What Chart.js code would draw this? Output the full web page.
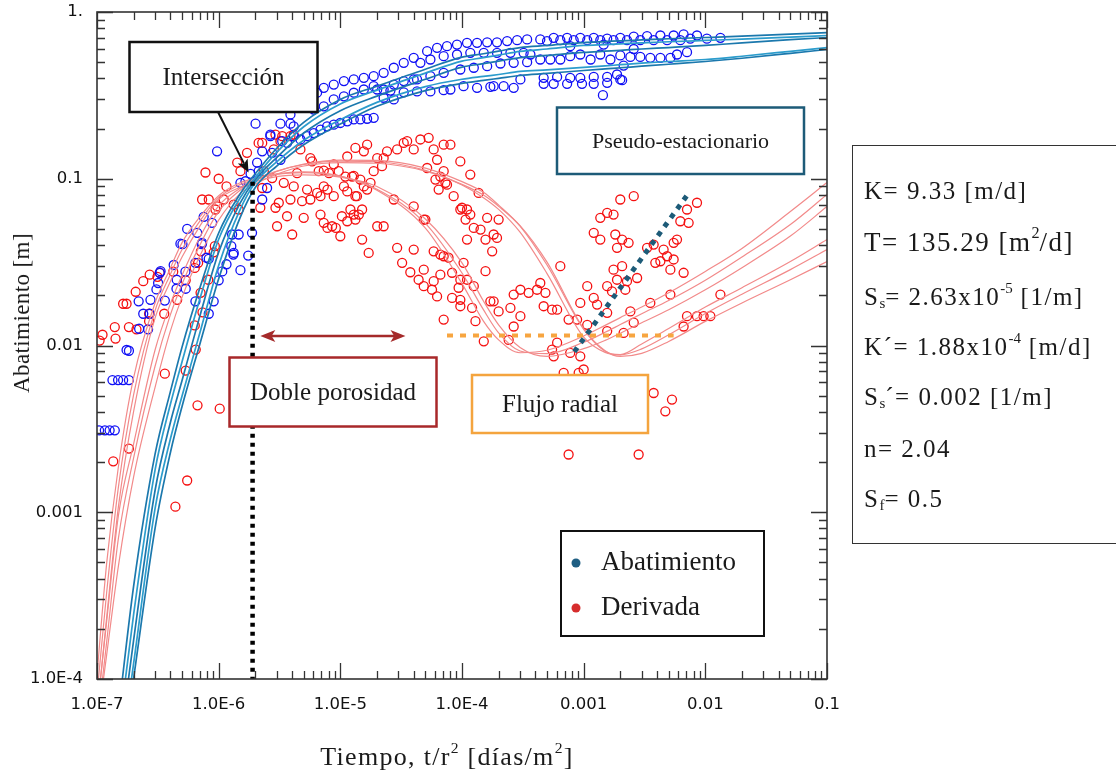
<!DOCTYPE html>
<html lang="es">
<head>
<meta charset="utf-8">
<title>Abatimiento y derivada</title>
<script src="https://cdn.jsdelivr.net/npm/chart.js@4.4.1/dist/chart.umd.min.js"></script>
<style>
  html, body { margin: 0; padding: 0; background: #fff; overflow: hidden; }
  #wrap { position: relative; width: 1116px; height: 775px; }
  #grafico { position: absolute; left: 0; top: 0; }
  .titulo { position: absolute; font-family: "Liberation Serif", serif; color: #1a1a1a; white-space: nowrap; }
  #tituloY { left: 22px; top: 313px; font-size: 23px; letter-spacing: 0.4px; transform: translate(-50%, -50%) rotate(-90deg); }
  #tituloX { left: 447px; top: 757px; font-size: 26px; letter-spacing: 1.3px; transform: translate(-50%, -50%); }
  .titulo sup { font-size: 0.6em; vertical-align: 0.75em; line-height: 0; }
  #parametros { position: absolute; left: 852px; top: 145px; width: 300px; height: 399px; border: 1.5px solid #333; box-sizing: border-box;
    font-family: "Liberation Serif", serif; font-size: 25px; letter-spacing: 1.5px; color: #1a1a1a; }
  #parametros div { position: absolute; left: 11px; white-space: nowrap; line-height: 28px; }
  #parametros sup, #parametros sub { font-size: 0.6em; line-height: 0; letter-spacing: 0; }
  #parametros sup { vertical-align: 0.8em; }
  #parametros sub { vertical-align: -0.2em; }
</style>
</head>
<body>
<div id="wrap">
  <canvas id="grafico" width="1116" height="775"></canvas>
  <div class="titulo" id="tituloY">Abatimiento [m]</div>
  <div class="titulo" id="tituloX">Tiempo, t/r<sup>2</sup> [días/m<sup>2</sup>]</div>
  <div id="parametros">
    <div style="top:31px">K= 9.33 [m/d]</div>
    <div style="top:82px;font-size:27px">T= 135.29 [m<sup>2</sup>/d]</div>
    <div style="top:137px">S<sub>s</sub>= 2.63x10<sup>-5</sup> [1/m]</div>
    <div style="top:187px">K´= 1.88x10<sup>-4</sup> [m/d]</div>
    <div style="top:237px">S<sub>s</sub>´= 0.002 [1/m]</div>
    <div style="top:289px">n= 2.04</div>
    <div style="top:339px">S<sub>f</sub>= 0.5</div>
  </div>
</div>
<script>
// ejes
const xTickVals = [1e-7, 1e-6, 1e-5, 1e-4, 1e-3, 1e-2, 1e-1];
const xTickLabels = ['1.0E-7', '1.0E-6', '1.0E-5', '1.0E-4', '0.001', '0.01', '0.1'];
const yTickVals = [1e-4, 1e-3, 1e-2, 1e-1, 1];
const yTickLabels = ['1.0E-4', '0.001', '0.01', '0.1', '1.'];

// tiempos comunes de las curvas teoricas
const curveX = [1e-7, 1.2e-7, 1.5e-7, 2e-7, 3e-7, 4e-7, 5e-7, 7e-7, 1e-6, 1.5e-6, 2e-6, 3e-6, 5e-6, 1e-5, 2e-5,
  5e-5, 1e-4, 1.5e-4, 2e-4, 3e-4, 5e-4, 1e-3, 1.5e-3, 2e-3, 3e-3, 5e-3, 1e-2, 2e-2, 5e-2, 0.1];

// curvas teoricas de abatimiento
const abatModelo1 = [5.30e-6, 1.60e-5, 6.26e-5, 3.61e-4, 2.23e-3, 5.25e-3, 9.78e-3, 0.0221, 0.0473, 0.0811, 0.1072, 0.1524, 0.218, 0.299, 0.359,
  0.454, 0.536, 0.562, 0.583, 0.612, 0.630, 0.656, 0.665, 0.672, 0.680, 0.691, 0.703, 0.716, 0.737, 0.753];
const abatModelo2 = [4.39e-6, 1.26e-5, 4.61e-5, 2.44e-4, 1.79e-3, 4.41e-3, 8.00e-3, 0.0190, 0.0434, 0.0766, 0.1019, 0.144, 0.205, 0.281, 0.340,
  0.430, 0.507, 0.532, 0.551, 0.580, 0.600, 0.630, 0.638, 0.644, 0.653, 0.663, 0.675, 0.687, 0.707, 0.723];
const abatModelo3 = [3.70e-6, 1.01e-5, 3.48e-5, 1.71e-4, 1.35e-3, 3.43e-3, 6.16e-3, 0.0150, 0.0362, 0.0715, 0.0986, 0.134, 0.188, 0.256, 0.313,
  0.395, 0.467, 0.490, 0.508, 0.533, 0.549, 0.572, 0.582, 0.589, 0.600, 0.612, 0.630, 0.653, 0.682, 0.703];
const abatModelo4 = [3.16e-6, 8.26e-6, 2.70e-5, 1.24e-4, 1.05e-3, 2.73e-3, 4.98e-3, 0.01187, 0.0302, 0.0653, 0.0948, 0.1263, 0.170, 0.226, 0.287,
  0.357, 0.395, 0.411, 0.422, 0.440, 0.450, 0.465, 0.475, 0.483, 0.494, 0.505, 0.519, 0.543, 0.581, 0.612];
const abatModelo5 = [3.01e-6, 7.56e-6, 2.35e-5, 1.01e-4, 8.01e-4, 2.26e-3, 4.31e-3, 0.01018, 0.0251, 0.0585, 0.0887, 0.1192, 0.160, 0.213, 0.272,
  0.338, 0.373, 0.389, 0.400, 0.416, 0.428, 0.446, 0.456, 0.463, 0.473, 0.486, 0.505, 0.528, 0.565, 0.596];

// curvas teoricas de la derivada
const derivModelo1 = [1.06e-4, 4.92e-4, 1.88e-3, 6.42e-3, 0.0180, 0.0290, 0.0414, 0.0590, 0.0791, 0.0946, 0.1003, 0.1069, 0.1101, 0.1036, 0.0852,
  0.0506, 0.0235, 0.0140, 0.0108, 0.00905, 0.00936, 0.0114, 0.0132, 0.0147, 0.0170, 0.0207, 0.0278, 0.0382, 0.0636, 0.0949];
const derivModelo2 = [8.05e-5, 3.29e-4, 1.42e-3, 5.08e-3, 0.0162, 0.0266, 0.0376, 0.0557, 0.0770, 0.0922, 0.0990, 0.1063, 0.1088, 0.1036, 0.0865,
  0.0540, 0.0272, 0.0164, 0.0119, 0.00927, 0.00893, 0.01045, 0.0120, 0.01335, 0.0155, 0.0186, 0.0246, 0.0339, 0.0531, 0.0804];
const derivModelo3 = [6.19e-5, 2.33e-4, 1.08e-3, 4.03e-3, 0.0146, 0.0241, 0.0339, 0.0520, 0.0751, 0.0889, 0.0963, 0.1031, 0.1054, 0.1022, 0.0898,
  0.0574, 0.0313, 0.0185, 0.0133, 0.00974, 0.00860, 0.00957, 0.01073, 0.01185, 0.0137, 0.0164, 0.0216, 0.0293, 0.0453, 0.0681];
const derivModelo4 = [6.37e-5, 2.21e-4, 9.57e-4, 2.57e-3, 0.00940, 0.0177, 0.0264, 0.0446, 0.0688, 0.0877, 0.0988, 0.1112, 0.1218, 0.1277, 0.1265,
  0.1123, 0.0917, 0.0770, 0.0655, 0.0478, 0.0270, 0.01123, 0.00910, 0.00882, 0.01022, 0.01263, 0.0170, 0.0222, 0.0319, 0.0432];
const derivModelo5 = [5.13e-5, 1.66e-4, 6.99e-4, 2.12e-3, 7.51e-3, 0.0152, 0.0234, 0.0400, 0.0637, 0.0854, 0.0973, 0.1105, 0.1225, 0.1293, 0.1288,
  0.1159, 0.0961, 0.0829, 0.0695, 0.0520, 0.0304, 0.01251, 0.00925, 0.00879, 0.00954, 0.01159, 0.01554, 0.0203, 0.0285, 0.0376];
const derivModelo6 = [5.10e-5, 1.39e-4, 4.77e-4, 1.63e-3, 5.61e-3, 0.01215, 0.0195, 0.0344, 0.0565, 0.0815, 0.0931, 0.1064, 0.1192, 0.1251, 0.1239,
  0.1112, 0.0925, 0.0798, 0.0683, 0.0523, 0.0316, 0.01261, 0.00931, 0.00860, 0.00897, 0.01058, 0.01395, 0.0180, 0.0248, 0.0319];

// datos medidos: abatimiento [t/r2, m]
const abatimientoPts = [
  [1.04e-7, 0.0031], [1.16e-7, 0.0031], [1.27e-7, 0.0031], [1.40e-7, 0.0031],
  [1.34e-7, 0.0062], [1.49e-7, 0.0062], [1.64e-7, 0.0062], [1.83e-7, 0.0062],
  [1.75e-7, 0.0094], [1.83e-7, 0.0093], [2.63e-7, 0.0125], [2.22e-7, 0.0126], [2.40e-7, 0.0155], [2.71e-7, 0.0155],
  [2.20e-7, 0.0184], [2.75e-7, 0.0188], [3.61e-7, 0.0186], [3.08e-7, 0.0217], [3.28e-7, 0.0273], [3.18e-7, 0.0237],
  [4.50e-7, 0.0219], [5.36e-7, 0.0219], [4.27e-7, 0.0304], [4.52e-7, 0.0248], [5.33e-7, 0.0277], [5.04e-7, 0.0405],
  [6.44e-7, 0.0313], [7.26e-7, 0.0405], [7.94e-7, 0.0336], [9.10e-7, 0.0184], [8.29e-7, 0.0155], [1.0e-6, 0.0246],
  [1.07e-6, 0.0278], [1.16e-6, 0.0307], [1.32e-6, 0.0351], [1.51e-6, 0.0283], [1.75e-6, 0.0346], [1.27e-6, 0.0394],
  [9.7e-7, 0.146], [2.01e-6, 0.214], [3.22e-6, 0.214], [3.89e-6, 0.214], [2.66e-6, 0.184], [3.33e-6, 0.168],
  [2.28e-6, 0.146], [2.75e-6, 0.143], [3.22e-6, 0.130], [2.07e-6, 0.125], [1.83e-6, 0.107], [2.13e-6, 0.111],
  [1.66e-6, 0.0966], [1.51e-6, 0.0945], [2.50e-6, 0.088], [2.28e-6, 0.0751], [7.53e-7, 0.0591], [8.83e-7, 0.0544],
  [5.51e-7, 0.0500], [6.66e-7, 0.0474], [4.85e-7, 0.0408], [7.31e-7, 0.0413], [1.33e-6, 0.0359], [1.29e-6, 0.0463],
  [1.46e-6, 0.0463], [1.88e-6, 0.0474], [3.33e-7, 0.0279], [6.44e-7, 0.0184], [8.29e-7, 0.0331],
  [2.66e-6, 0.180], [3.65e-6, 0.164], [4.14e-6, 0.180], [4.70e-6, 0.172], [5.33e-6, 0.180], [6.05e-6, 0.188],
  [6.87e-6, 0.197], [7.79e-6, 0.206], [8.83e-6, 0.211], [1.0e-5, 0.216], [1.14e-5, 0.221], [1.29e-5, 0.227],
  [1.46e-5, 0.227], [1.66e-5, 0.229], [1.88e-5, 0.232],
  [3.89e-6, 0.243], [4.70e-6, 0.272], [5.67e-6, 0.299], [6.44e-6, 0.328], [7.31e-6, 0.351], [8.83e-6, 0.367],
  [1.07e-5, 0.385], [1.29e-5, 0.394], [1.56e-5, 0.403], [1.88e-5, 0.412], [2.27e-5, 0.432], [2.75e-5, 0.463],
  [3.32e-5, 0.496], [4.01e-5, 0.531],
  [6.05e-6, 0.260], [7.31e-6, 0.272], [8.83e-6, 0.299], [1.07e-5, 0.312], [1.29e-5, 0.328], [1.56e-5, 0.343],
  [1.88e-5, 0.359], [2.27e-5, 0.343], [2.75e-5, 0.367], [3.32e-5, 0.385], [4.01e-5, 0.394], [3.02e-6, 0.272], [4.14e-6, 0.206],
  [5.17e-5, 0.582], [6.24e-5, 0.610], [7.53e-5, 0.624], [9.10e-5, 0.638], [1.10e-4, 0.653], [1.33e-4, 0.653],
  [1.61e-4, 0.658], [1.94e-4, 0.658], [2.35e-4, 0.669], [2.84e-4, 0.678], [3.43e-4, 0.685],
  [4.55e-5, 0.496], [5.50e-5, 0.519], [7.07e-5, 0.543], [9.10e-5, 0.556], [1.17e-4, 0.569], [1.51e-4, 0.569],
  [1.94e-4, 0.569], [2.50e-4, 0.569], [3.21e-4, 0.569],
  [4.27e-5, 0.394], [5.50e-5, 0.412], [7.07e-5, 0.432], [9.69e-5, 0.452], [1.25e-4, 0.463], [1.61e-4, 0.473],
  [2.07e-4, 0.491], [2.66e-4, 0.496], [3.43e-4, 0.500],
  [2.01e-5, 0.343], [2.58e-5, 0.338], [3.32e-5, 0.330], [4.27e-5, 0.334], [5.50e-5, 0.334], [7.07e-5, 0.340],
  [1.03e-4, 0.359], [1.33e-4, 0.351], [1.82e-4, 0.359], [2.20e-4, 0.359], [2.66e-4, 0.351], [2.27e-5, 0.306],
  [2.75e-5, 0.299], [8.03e-5, 0.343], [1.71e-4, 0.356],
  [4.69e-4, 0.371], [5.67e-4, 0.371], [7.31e-4, 0.371], [9.69e-4, 0.371], [1.21e-3, 0.371], [1.56e-3, 0.376], [2.00e-3, 0.394],
  [4.40e-4, 0.685], [5.67e-4, 0.700], [7.31e-4, 0.700], [9.38e-4, 0.700], [1.21e-3, 0.700], [1.56e-3, 0.692],
  [2.00e-3, 0.700], [2.58e-3, 0.711], [3.32e-3, 0.717], [4.27e-3, 0.723], [5.49e-3, 0.723], [6.63e-3, 0.734],
  [8.54e-3, 0.723], [1.03e-2, 0.692], [1.33e-2, 0.700],
  [5.0e-4, 0.669], [6.43e-4, 0.678], [8.28e-4, 0.678], [1.07e-3, 0.678], [1.37e-3, 0.678], [1.76e-3, 0.678],
  [2.27e-3, 0.678], [2.92e-3, 0.678], [3.76e-3, 0.678], [4.85e-3, 0.678], [6.23e-3, 0.678], [7.52e-3, 0.692],
  [7.75e-4, 0.624], [1.46e-3, 0.638], [2.58e-3, 0.600],
  [3.65e-4, 0.556], [4.40e-4, 0.519], [5.32e-4, 0.519], [6.43e-4, 0.519], [7.75e-4, 0.543], [9.38e-4, 0.556],
  [1.14e-3, 0.519], [1.37e-3, 0.556], [1.66e-3, 0.519], [2.0e-3, 0.549], [2.42e-3, 0.538], [2.92e-3, 0.538],
  [3.53e-3, 0.531], [4.27e-3, 0.531], [5.16e-3, 0.531], [5.85e-3, 0.556], [7.07e-3, 0.574], [2.13e-3, 0.477],
  [3.02e-4, 0.394], [4.69e-4, 0.403], [6.05e-4, 0.408], [7.75e-4, 0.403], [9.38e-4, 0.403], [1.21e-3, 0.408],
  [1.56e-3, 0.408], [1.88e-3, 0.422], [2.07e-3, 0.390], [1.44e-3, 0.317]
];

// datos medidos: derivada [t/r2, m]
const derivadaPts = [
  [1.36e-7, 0.00202], [1.83e-7, 0.00241], [4.41e-7, 0.00108], [5.51e-7, 0.00155], [6.70e-7, 0.00438], [1.02e-6, 0.00418],
  [3.61e-7, 0.00678], [5.36e-7, 0.00707], [6.48e-7, 0.00945], [6.36e-7, 0.0132], [7.36e-7, 0.0158], [7.10e-7, 0.0207],
  [8.20e-7, 0.0248], [6.36e-7, 0.0292], [6.78e-7, 0.0313],
  [1.05e-7, 0.0107], [1.11e-7, 0.0116], [1.40e-7, 0.0129], [1.42e-7, 0.0110], [1.83e-7, 0.0129], [2.11e-7, 0.0125],
  [1.64e-7, 0.0178], [1.75e-7, 0.0178], [2.08e-7, 0.0210], [2.40e-7, 0.0243], [2.71e-7, 0.0266], [3.14e-7, 0.0258],
  [3.28e-7, 0.0273], [2.68e-7, 0.0155], [2.68e-7, 0.0140], [3.57e-7, 0.0155], [4.56e-7, 0.0188], [5.36e-7, 0.0246],
  [4.23e-7, 0.0277], [9.10e-7, 0.0362], [9.30e-7, 0.0394], [7.14e-7, 0.0367],
  [7.79e-7, 0.109], [1.0e-6, 0.100], [1.16e-6, 0.090], [1.42e-6, 0.125], [1.71e-6, 0.143], [1.51e-6, 0.111],
  [1.10e-6, 0.0751], [9.72e-7, 0.0683], [7.31e-7, 0.0751], [9.41e-7, 0.0654], [8.29e-7, 0.0751], [1.33e-6, 0.0700], [1.46e-6, 0.0654],
  [2.13e-6, 0.164], [2.28e-6, 0.164], [2.84e-6, 0.150], [3.33e-6, 0.180], [2.93e-6, 0.184], [3.89e-6, 0.180],
  [3.22e-6, 0.168], [2.35e-6, 0.111], [2.75e-6, 0.101], [2.28e-6, 0.088], [2.20e-6, 0.0670], [4.14e-6, 0.184],
  [4.70e-6, 0.150], [5.67e-6, 0.133], [5.86e-6, 0.127],
  [2.93e-6, 0.0670], [3.12e-6, 0.0718], [3.65e-6, 0.0596], [3.89e-6, 0.0751], [3.02e-6, 0.0519], [4.02e-6, 0.0463],
  [5.0e-6, 0.0583], [5.67e-6, 0.0751], [6.87e-6, 0.0786], [6.64e-6, 0.111], [7.31e-6, 0.112], [8.83e-6, 0.122],
  [9.69e-6, 0.111], [1.10e-5, 0.103], [1.29e-5, 0.104], [1.46e-5, 0.0989], [1.56e-5, 0.090], [1.77e-5, 0.0945],
  [7.31e-6, 0.090], [7.84e-6, 0.0861], [8.83e-6, 0.0786], [1.07e-5, 0.090], [1.14e-5, 0.0840], [1.37e-5, 0.0786],
  [1.21e-5, 0.0654], [1.42e-5, 0.0610], [6.87e-6, 0.0610], [7.84e-6, 0.0507], [9.18e-6, 0.0507], [1.0e-5, 0.0452],
  [1.14e-5, 0.0556], [1.29e-5, 0.0610], [1.51e-5, 0.0432], [1.71e-5, 0.0359], [1.51e-5, 0.0654],
  [1.14e-5, 0.136], [1.33e-5, 0.153], [1.56e-5, 0.146], [1.66e-5, 0.160], [2.01e-5, 0.133], [2.01e-5, 0.0519],
  [2.27e-5, 0.0519], [2.75e-5, 0.0751], [2.93e-5, 0.0385], [3.22e-5, 0.0313], [3.76e-5, 0.0275], [4.01e-5, 0.0376],
  [4.40e-5, 0.0248], [4.85e-5, 0.0569], [4.85e-5, 0.0285], [5.85e-5, 0.0243], [6.24e-5, 0.0197], [7.07e-5, 0.0143],
  [6.64e-5, 0.0351], [7.75e-5, 0.0336], [8.29e-5, 0.0273], [9.69e-5, 0.0248], [1.03e-4, 0.0313], [9.69e-5, 0.0188],
  [1.10e-4, 0.0432], [1.10e-4, 0.0654],
  [1.88e-5, 0.111], [2.42e-5, 0.146], [2.93e-5, 0.150], [3.32e-5, 0.164], [3.54e-5, 0.168], [4.01e-5, 0.150],
  [4.55e-5, 0.172], [5.32e-5, 0.176], [5.85e-5, 0.150], [6.24e-5, 0.130], [7.07e-5, 0.160], [8.03e-5, 0.160],
  [9.69e-5, 0.127], [6.05e-5, 0.0989], [5.17e-5, 0.116], [7.07e-5, 0.111], [7.31e-5, 0.0945], [8.54e-5, 0.0786],
  [9.69e-5, 0.0654], [1.17e-4, 0.106], [6.64e-5, 0.103], [7.53e-5, 0.0922], [6.43e-5, 0.0861],
  [1.0e-4, 0.0670], [1.07e-4, 0.0569], [1.17e-4, 0.0610], [1.25e-4, 0.0507], [1.42e-4, 0.0496], [1.56e-4, 0.0432],
  [1.82e-4, 0.0463], [1.77e-4, 0.0367], [2.0e-4, 0.0569], [1.94e-4, 0.0442], [1.37e-4, 0.0822], [1.61e-4, 0.0583],
  [4.01e-5, 0.0683], [5.0e-5, 0.0569], [5.85e-5, 0.0367], [7.07e-5, 0.0343], [1.10e-4, 0.0248], [1.25e-4, 0.0227],
  [1.56e-4, 0.0279], [1.82e-4, 0.0184], [2.0e-4, 0.0160], [1.21e-4, 0.0168], [9.38e-5, 0.0222], [8.29e-5, 0.0193],
  [5.67e-5, 0.0216], [6.64e-5, 0.0266],
  [2.27e-5, 0.133], [2.20e-5, 0.119], [8.07e-6, 0.108], [1.25e-5, 0.103], [1.66e-5, 0.0861], [1.33e-5, 0.0786],
  [4.41e-6, 0.108], [3.43e-6, 0.0945], [4.14e-6, 0.090], [5.33e-6, 0.0861], [6.44e-6, 0.0822], [4.85e-6, 0.0734],
  [1.03e-5, 0.0596], [8.56e-6, 0.0519], [7.31e-6, 0.0544], [1.33e-5, 0.0569],
  [4.85e-5, 0.0227], [9.69e-5, 0.0172], [1.29e-4, 0.0140], [1.51e-4, 0.0106], [1.71e-4, 0.0184], [2.50e-4, 0.0168],
  [2.66e-4, 0.0130], [2.66e-4, 0.0202], [3.02e-4, 0.0216], [3.02e-4, 0.0150], [2.42e-4, 0.0108], [3.53e-4, 0.0207],
  [4.14e-4, 0.0216], [4.40e-4, 0.0237], [4.85e-4, 0.0207], [4.69e-4, 0.0172], [5.50e-4, 0.0164], [6.05e-4, 0.0164],
  [5.50e-4, 0.00945], [5.67e-4, 0.00861], [6.43e-4, 0.0299], [7.52e-4, 0.0143], [7.75e-4, 0.00902], [9.38e-4, 0.00861],
  [9.38e-4, 0.0180], [1.07e-3, 0.0227], [1.21e-3, 0.0193], [1.29e-3, 0.0176], [1.56e-3, 0.0227], [1.56e-3, 0.0157],
  [1.71e-3, 0.0211], [1.76e-3, 0.0285], [1.88e-3, 0.0248], [2.20e-3, 0.0216], [2.27e-3, 0.0243], [2.42e-3, 0.0160],
  [2.75e-3, 0.0254], [2.58e-3, 0.0137], [2.13e-3, 0.0119], [1.56e-3, 0.0122], [1.07e-3, 0.0133], [8.83e-4, 0.0143],
  [6.85e-4, 0.00685], [1.0e-3, 0.00718], [1.82e-3, 0.00569], [6.05e-4, 0.0104], [9.10e-4, 0.00685],
  [2.0e-3, 0.0751], [2.58e-3, 0.0786], [1.37e-3, 0.0583], [1.56e-3, 0.0624], [1.76e-3, 0.0610], [1.21e-3, 0.0474],
  [1.37e-3, 0.0432], [1.82e-3, 0.0463], [2.07e-3, 0.0432], [2.34e-3, 0.0413], [2.07e-3, 0.0299], [1.88e-3, 0.0385],
  [3.32e-3, 0.0385], [3.76e-3, 0.0403], [4.54e-3, 0.0376], [4.85e-3, 0.0343], [4.27e-3, 0.0320], [3.88e-3, 0.0313],
  [5.16e-3, 0.0285], [5.49e-3, 0.0413], [5.85e-3, 0.0432], [6.63e-3, 0.0273], [6.23e-3, 0.0556], [7.07e-3, 0.0654],
  [8.54e-3, 0.0718], [7.29e-3, 0.0544], [5.49e-3, 0.0328],
  [3.53e-3, 0.0180], [5.16e-3, 0.0202], [6.63e-3, 0.0130], [7.07e-3, 0.0150], [8.54e-3, 0.0150], [9.68e-3, 0.0150],
  [1.10e-2, 0.0150], [1.33e-2, 0.0202],
  [3.76e-3, 0.00519], [4.69e-3, 0.00403], [5.32e-3, 0.00474], [7.52e-4, 0.00222], [2.83e-3, 0.00222]
];

// lineas guia
const corteX = [1.9e-6, 1.9e-6];
const corteY = [0.096, 1e-4];
const estacionarioX = [8.38e-4, 7.07e-3];
const estacionarioY = [0.00918, 0.0795];
const radialX = [7.53e-5, 5.49e-3];
const radialY = [0.0115, 0.0115];
const dobleX = [2.2e-6, 3.43e-5];
const dobleY = [0.0114, 0.0114];
const interseccion = [1.76e-6, 0.109];

const abatModelos = [abatModelo1, abatModelo2, abatModelo3, abatModelo4, abatModelo5];
const derivModelos = [derivModelo1, derivModelo2, derivModelo3, derivModelo4, derivModelo5, derivModelo6];
const tealColors = ['#1b78ad', '#2c9ccc', '#1b78ad', '#2c9ccc', '#1b78ad'];

function toXY(xs, ys) {
    return xs.map((v, i) => ({ x: v, y: ys[i] }));
}

// recuadros de texto
const notas = [
    { text: 'Intersección', x: 129.5, y: 42, w: 188, h: 70, color: '#111111', size: 25 },
    { text: 'Pseudo-estacionario', x: 557, y: 107.5, w: 247, h: 66.5, color: '#1d5b78', size: 22 },
    { text: 'Doble porosidad', x: 229.5, y: 357.5, w: 207, h: 69, color: '#a8282a', size: 25 },
    { text: 'Flujo radial', x: 472, y: 375, w: 176, h: 58, color: '#f4a43e', size: 25 }
];

function arrowHead(ctx, tx, ty, angle, len, half) {
    ctx.beginPath();
    ctx.moveTo(tx, ty);
    ctx.lineTo(tx - len * Math.cos(angle) + half * Math.sin(angle), ty - len * Math.sin(angle) - half * Math.cos(angle));
    ctx.lineTo(tx - len * 0.75 * Math.cos(angle), ty - len * 0.75 * Math.sin(angle));
    ctx.lineTo(tx - len * Math.cos(angle) - half * Math.sin(angle), ty - len * Math.sin(angle) + half * Math.cos(angle));
    ctx.closePath();
    ctx.fill();
}

const overlay = {
    id: 'overlay',
    afterDatasetsDraw(chart) {
        const ctx = chart.ctx;
        const xs = chart.scales.x, ys = chart.scales.y;
        ctx.save();

        // flecha doble porosidad
        const ax0 = xs.getPixelForValue(dobleX[0]);
        const ax1 = xs.getPixelForValue(dobleX[1]);
        const ay = ys.getPixelForValue(dobleY[0]);
        ctx.strokeStyle = '#a52a2a';
        ctx.fillStyle = '#a52a2a';
        ctx.lineWidth = 2.5;
        ctx.beginPath();
        ctx.moveTo(ax0 + 8, ay);
        ctx.lineTo(ax1 - 8, ay);
        ctx.stroke();
        arrowHead(ctx, ax0, ay, Math.PI, 15, 6);
        arrowHead(ctx, ax1, ay, 0, 15, 6);

        // recuadros
        notas.forEach(n => {
            ctx.fillStyle = '#ffffff';
            ctx.fillRect(n.x, n.y, n.w, n.h);
            ctx.strokeStyle = n.color;
            ctx.lineWidth = 2.5;
            ctx.strokeRect(n.x, n.y, n.w, n.h);
            ctx.fillStyle = '#1a1a1a';
            ctx.font = n.size + 'px "Liberation Serif"';
            ctx.textAlign = 'center';
            ctx.textBaseline = 'middle';
            ctx.fillText(n.text, n.x + n.w / 2, n.y + n.h / 2 + 1);
        });

        // flecha de la interseccion
        const ix = xs.getPixelForValue(interseccion[0]);
        const iy = ys.getPixelForValue(interseccion[1]);
        const sx = 218, sy = 112;
        const ang = Math.atan2(iy - sy, ix - sx);
        ctx.strokeStyle = '#111';
        ctx.fillStyle = '#111';
        ctx.lineWidth = 2;
        ctx.beginPath();
        ctx.moveTo(sx, sy);
        ctx.lineTo(ix - 10 * Math.cos(ang), iy - 10 * Math.sin(ang));
        ctx.stroke();
        arrowHead(ctx, ix, iy, ang, 13, 5.5);

        // leyenda
        ctx.fillStyle = '#ffffff';
        ctx.fillRect(561, 531, 203, 105);
        ctx.strokeStyle = '#111';
        ctx.lineWidth = 2;
        ctx.strokeRect(561, 531, 203, 105);
        ctx.fillStyle = '#1f5f83';
        ctx.beginPath(); ctx.arc(576, 563, 4.5, 0, Math.PI * 2); ctx.fill();
        ctx.fillStyle = '#d62d2d';
        ctx.beginPath(); ctx.arc(576, 608, 4.5, 0, Math.PI * 2); ctx.fill();
        ctx.fillStyle = '#1a1a1a';
        ctx.font = '27px "Liberation Serif"';
        ctx.textAlign = 'left';
        ctx.textBaseline = 'middle';
        ctx.fillText('Abatimiento', 601, 563);
        ctx.fillText('Derivada', 601, 608);
        ctx.restore();
    },
    afterDraw(chart) {
        // marco y marcas hacia dentro en los cuatro lados
        const ctx = chart.ctx;
        const { left, right, top, bottom } = chart.chartArea;
        const xs = chart.scales.x, ys = chart.scales.y;
        ctx.save();
        ctx.strokeStyle = '#333';
        ctx.lineWidth = 1.3;
        ctx.beginPath();
        for (let e = -7; e <= -1; e++) {
            for (let k = 1; k <= 9; k++) {
                const v = k * Math.pow(10, e);
                if (v > 0.1 * 1.0001) break;
                const px = Math.round(xs.getPixelForValue(v)) + 0.5;
                const len = k === 1 ? 16 : 8;
                ctx.moveTo(px, bottom); ctx.lineTo(px, bottom - len);
                ctx.moveTo(px, top); ctx.lineTo(px, top + len);
            }
        }
        for (let e = -4; e <= 0; e++) {
            for (let k = 1; k <= 9; k++) {
                const v = k * Math.pow(10, e);
                if (v > 1.0001) break;
                const py = Math.round(ys.getPixelForValue(v)) + 0.5;
                const len = k === 1 ? 16 : 8;
                ctx.moveTo(left, py); ctx.lineTo(left + len, py);
                ctx.moveTo(right, py); ctx.lineTo(right - len, py);
            }
        }
        ctx.stroke();
        ctx.lineWidth = 1.6;
        ctx.strokeRect(left, top, right - left, bottom - top);
        ctx.restore();
    }
};

document.addEventListener('DOMContentLoaded', function () {
    const datasets = [];

    // lineas guia (encima)
    datasets.push({
        type: 'line', label: 'corte', data: toXY(corteX, corteY),
        borderColor: '#000', borderWidth: 4.5, borderDash: [4, 5], pointRadius: 0, order: 1
    });
    datasets.push({
        type: 'line', label: 'estacionario', data: toXY(estacionarioX, estacionarioY),
        borderColor: '#1d5b78', borderWidth: 5, borderDash: [5, 6], pointRadius: 0, order: 1
    });
    datasets.push({
        type: 'line', label: 'radial', data: toXY(radialX, radialY),
        borderColor: '#f7a540', borderWidth: 4, borderDash: [6, 7], pointRadius: 0, order: 1
    });

    // curvas teoricas
    abatModelos.forEach((ys, i) => {
        datasets.push({
            type: 'line', label: 'abat modelo ' + (i + 1), data: toXY(curveX, ys),
            borderColor: tealColors[i], borderWidth: 1.7, pointRadius: 0,
            cubicInterpolationMode: 'monotone', order: 2
        });
    });
    derivModelos.forEach((ys, i) => {
        datasets.push({
            type: 'line', label: 'deriv modelo ' + (i + 1), data: toXY(curveX, ys),
            borderColor: '#f28a8a', borderWidth: 1.2, pointRadius: 0,
            cubicInterpolationMode: 'monotone', order: 2
        });
    });

    // datos medidos
    datasets.push({
        type: 'scatter', label: 'Abatimiento', data: abatimientoPts.map(p => ({ x: p[0], y: p[1] })),
        pointStyle: 'circle', pointRadius: 4.5, pointBorderWidth: 1.3,
        pointBorderColor: '#1010f5', pointBackgroundColor: 'rgba(0,0,0,0)', order: 3
    });
    datasets.push({
        type: 'scatter', label: 'Derivada', data: derivadaPts.map(p => ({ x: p[0], y: p[1] })),
        pointStyle: 'circle', pointRadius: 4.5, pointBorderWidth: 1.3,
        pointBorderColor: '#f51010', pointBackgroundColor: 'rgba(0,0,0,0)', order: 4
    });

    const ctx = document.getElementById('grafico').getContext('2d');
    new Chart(ctx, {
        type: 'scatter',
        data: { datasets: datasets },
        options: {
            responsive: false,
            animation: false,
            layout: { padding: { left: 0, right: 289, top: 12, bottom: 0 } },
            plugins: { legend: { display: false }, tooltip: { enabled: false } },
            scales: {
                x: {
                    type: 'logarithmic', min: 1e-7, max: 0.1,
                    grid: { display: false, drawTicks: false },
                    border: { display: false },
                    afterBuildTicks: function (s) { s.ticks = xTickVals.map(v => ({ value: v })); },
                    afterFit: function (s) { s.height = 96; s.paddingLeft = 0; s.paddingRight = 0; },
                    ticks: {
                        autoSkip: false, maxRotation: 0, padding: 16, color: '#111',
                        font: { family: 'DejaVu Sans', size: 16.5 },
                        callback: function (v, i) { return xTickLabels[i]; }
                    }
                },
                y: {
                    type: 'logarithmic', min: 1e-4, max: 1,
                    grid: { display: false, drawTicks: false },
                    border: { display: false },
                    afterBuildTicks: function (s) { s.ticks = yTickVals.map(v => ({ value: v })); },
                    afterFit: function (s) { s.width = 97; s.paddingTop = 0; s.paddingBottom = 0; },
                    ticks: {
                        autoSkip: false, padding: 14, color: '#111',
                        font: { family: 'DejaVu Sans', size: 16.5 },
                        callback: function (v, i) { return yTickLabels[i]; }
                    }
                }
            }
        },
        plugins: [overlay]
    });
});
</script>
</body>
</html>
